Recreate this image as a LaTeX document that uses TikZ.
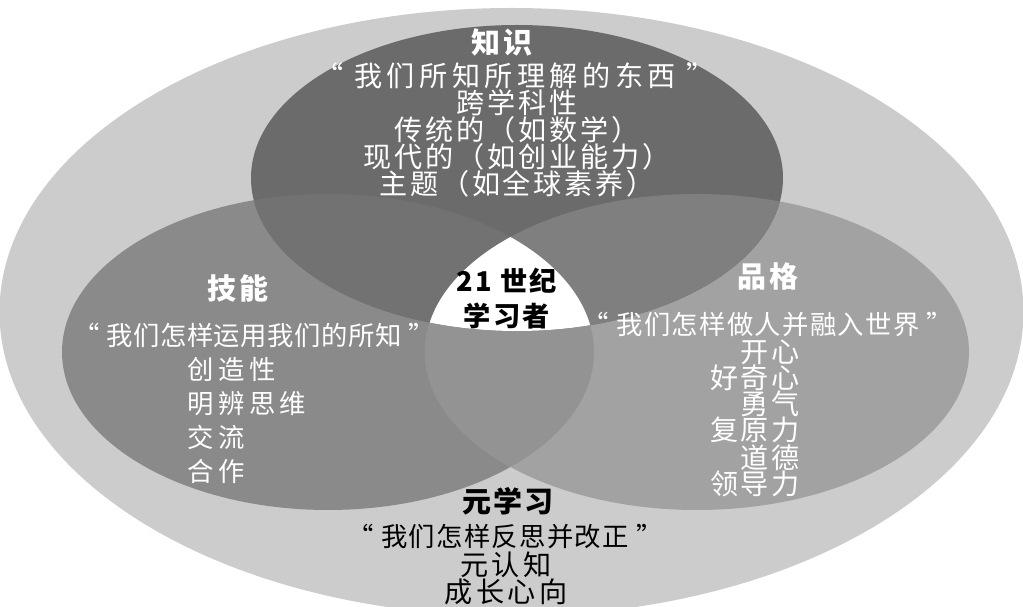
\documentclass[tikz,border=0pt]{standalone}
\usepackage{fontspec}
\usepackage{xcolor}
\usepackage{tikz}
\usetikzlibrary{positioning}

\newfontfamily\cjk{Noto Sans CJK SC}
\newfontfamily\cjkheavy[LetterSpace=8]{Noto Sans CJK SC Black}
\newcommand{\spaced}[1]{\addfontfeature{LetterSpace=#1}}

\definecolor{outergray}{HTML}{CCCCCC}
\definecolor{knowgray}{HTML}{6B6B6B}
\definecolor{skillgray}{HTML}{8A8A8A}
\definecolor{chargray}{HTML}{A2A2A2}
\definecolor{knowskill}{HTML}{727272}
\definecolor{knowchar}{HTML}{7F7F7F}
\definecolor{metagray}{HTML}{939393}

\newcommand{\knowpath}{(10.34,8.56) ellipse [x radius=5.32, y radius=3.06]}
\newcommand{\skillpath}{(6.56,5.08) ellipse [x radius=5.32, y radius=3.16]}
\newcommand{\charpath}{(13.94,5.08) ellipse [x radius=5.44, y radius=3.16]}

\tikzset{
  headtext/.style={font=\cjkheavy\fontsize{16.5}{17}\selectfont, inner sep=0pt},
  quotetext/.style={inner sep=0pt},
  listtext/.style={inner sep=0pt},
}

\begin{document}
\begin{tikzpicture}
    \useasboundingbox (0,0) rectangle (20.46,12.12);
    \clip (0,0) rectangle (20.46,12.12);

    % Outer ring
    \fill[outergray] (10.23,5.88) ellipse [x radius=10.24, y radius=6.08];

    % Skills and character
    \fill[skillgray] \skillpath;
    \fill[chargray] \charpath;
    \begin{scope}
        \clip \skillpath;
        \fill[metagray] \charpath;
    \end{scope}

    % Knowledge
    \fill[knowgray] \knowpath;
    \begin{scope}
        \clip \knowpath;
        \fill[knowskill] \skillpath;
        \fill[knowchar] \charpath;
    \end{scope}
    \begin{scope}
        \clip \knowpath;
        \clip \skillpath;
        \fill[white] \charpath;
    \end{scope}

    % Knowledge texts
    \node[headtext, white] (knowtitle) at (10.04,11.28) {知识};
    \node[quotetext, white, font=\cjk\spaced{16}\fontsize{16}{16.5}\selectfont]
        (knowquote) at (10.3,10.6) {“ 我们所知所理解的东西 ”};
    \node[listtext, white, align=center, font=\cjk\spaced{10}\fontsize{16}{15.37}\selectfont]
        (knowlist) at (10.34,9.26) {跨学科性\\传统的（如数学）\\现代的（如创业能力）\\主题（如全球素养）};

    % Skills texts
    \node[headtext, white] (skilltitle) at (4.76,6.36) {技能};
    \node[quotetext, white, font=\cjk\spaced{2}\fontsize{15}{15.5}\selectfont]
        (skillquote) at (5.08,5.42) {“ 我们怎样运用我们的所知 ”};
    \node[listtext, white, align=left, anchor=west, font=\cjk\spaced{17}\fontsize{15}{19.5}\selectfont]
        (skilllist) at (3.74,3.71) {创造性\\明辨思维\\交流\\合作};

    % Character texts
    \node[headtext, white] (chartitle) at (15.36,6.6) {品格};
    \node[quotetext, white, font=\cjk\spaced{5}\fontsize{15}{15.5}\selectfont]
        (charquote) at (15.36,5.64) {“ 我们怎样做人并融入世界 ”};
    \node[listtext, white, align=right, anchor=east, font=\cjk\spaced{9}\fontsize{16}{14.8}\selectfont]
        (charlist) at (16.0,3.76) {开心\\好奇心\\勇气\\复原力\\道德\\领导力};

    % Meta-learning texts
    \node[headtext, black] (metatitle) at (10.16,2.1) {元学习};
    \node[quotetext, black, font=\cjk\spaced{5}\fontsize{15}{15.5}\selectfont]
        (metaquote) at (10.1,1.4) {“ 我们怎样反思并改正 ”};
    \node[listtext, black, align=center, font=\cjk\spaced{12}\fontsize{16}{15.4}\selectfont]
        (metalist) at (10.12,0.55) {元认知\\成长心向};

    % Centre
    \node[headtext, black, align=center, font=\cjkheavy\fontsize{15.5}{19.9}\selectfont]
        (learner) at (10.14,6.15) {21 世纪\\学习者};
\end{tikzpicture}
\end{document}
